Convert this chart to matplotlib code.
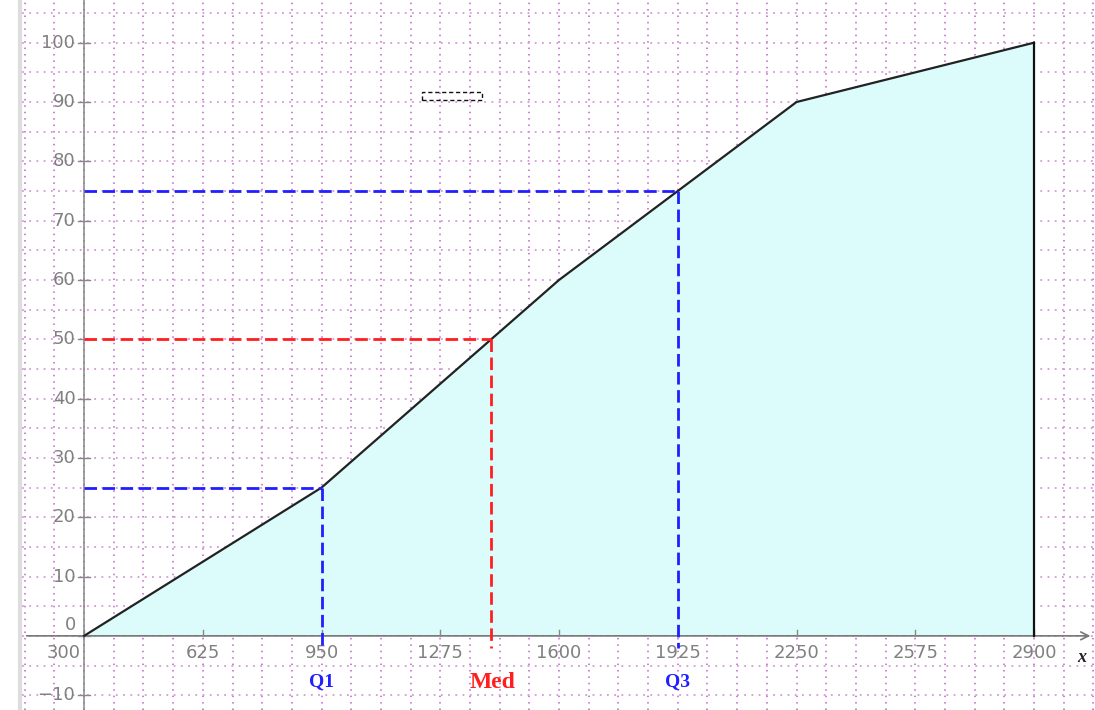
import numpy as np
import matplotlib
matplotlib.use("Agg")
import matplotlib.pyplot as plt
from matplotlib.patches import Rectangle
from matplotlib.lines import Line2D

# ---- data ----
x_bounds = [300, 950, 1600, 2250, 2900]
cum_pct = [0, 25, 60, 90, 100]
q_levels = [25, 50, 75]
q_names = ["Q1", "Med", "Q3"]
q_colors = ["#1f1fff", "#ff1f1f", "#1f1fff"]
x_ticks = [300, 625, 950, 1275, 1600, 1925, 2250, 2575, 2900]
y_ticks = [-10, 0, 10, 20, 30, 40, 50, 60, 70, 80, 90, 100]

q_values = np.interp(q_levels, cum_pct, x_bounds)

fig = plt.figure(figsize=(10.95, 7.10), dpi=100)
ax = fig.add_axes([22 / 1095, 0, 1073 / 1095, 1])
ax.set_xlim(130, 3067)
ax.set_ylim(-12.5, 107.2)

# grid
for gx in np.arange(300 - 81.25 * 2, 3100, 81.25):
    ax.axvline(gx, color="#c060c8", lw=1.1, ls=(0, (1, 3.2)), zorder=0.5)
for gy in np.arange(-15, 110, 5):
    ax.axhline(gy, color="#d49ad8", lw=1.3, ls=(0, (1, 3.0)), zorder=0.5)

# fill and ogive
fx = x_bounds + [x_bounds[-1]]
fy = cum_pct + [0]
ax.fill(fx, fy, color="#dcfcfc", zorder=1)
ax.plot(x_bounds, cum_pct, color="#222222", lw=1.6, zorder=4)
ax.plot([x_bounds[-1], x_bounds[-1]], [cum_pct[-1], 0], color="#111111", lw=1.6, zorder=4)

# axes lines
ax.spines[["top", "right", "left", "bottom"]].set_visible(False)
ax.annotate("", xy=(3062, 0), xytext=(135, 0),
            arrowprops=dict(arrowstyle="->", color="#777777", lw=1.2, mutation_scale=14),
            zorder=3)
ax.plot([300, 300], [-12.5, 107.2], color="#888888", lw=1.1, zorder=3)

# ticks
ax.set_xticks([])
ax.set_yticks([])
lab_col = "#808080"
for t in x_ticks:
    ax.plot([t, t], [0, 1.0], color="#888888", lw=1, zorder=3)
    if t == 300:
        ax.text(t - 8, -1.4, str(t), ha="right", va="top", fontsize=13, color=lab_col)
    else:
        ax.text(t, -1.4, str(t), ha="center", va="top", fontsize=13, color=lab_col)
for t in y_ticks:
    ax.plot([300 - 17, 300 + 17], [t, t], color="#888888", lw=1, zorder=3)
    lab = str(t).replace("-", "\u2212")
    if t == 0:
        ax.text(300 - 22, 1.9, lab, ha="right", va="center", fontsize=13, color=lab_col)
    else:
        ax.text(300 - 24, t, lab, ha="right", va="center", fontsize=13, color=lab_col)

ax.text(3031, -3.6, "x", ha="center", va="center", fontsize=13, fontstyle="italic",
        fontweight="bold", family="Liberation Serif", color="#222222")

# quartile dashed lines
for lv, qv, nm, c in zip(q_levels, q_values, q_names, q_colors):
    ax.plot([300, qv], [lv, lv], color=c, lw=2.0, ls=(0, (4.5, 2)), zorder=5)
    ax.plot([qv, qv], [lv, -2], color=c, lw=2.0, ls=(0, (4.5, 2)), zorder=5)
    if nm == "Med":
        ax.text(qv + 5, -7.8, nm, ha="center", va="center", fontsize=17,
                fontweight="bold", family="Liberation Serif", color=c)
    else:
        ax.text(qv, -7.7, nm, ha="center", va="center", fontsize=14,
                fontweight="bold", family="Liberation Serif", color=c)

# empty legend box
ax.add_patch(Rectangle((1224, 90.3), 164, 1.4, fill=False, ec="#111111", lw=1,
                       ls=(0, (3, 2)), zorder=6))

# left frame bar
fig.add_artist(Line2D([20 / 1095, 20 / 1095], [0, 1], color="#dddddd", lw=3,
                      transform=fig.transFigure))

fig.savefig("out.png", dpi=100)
